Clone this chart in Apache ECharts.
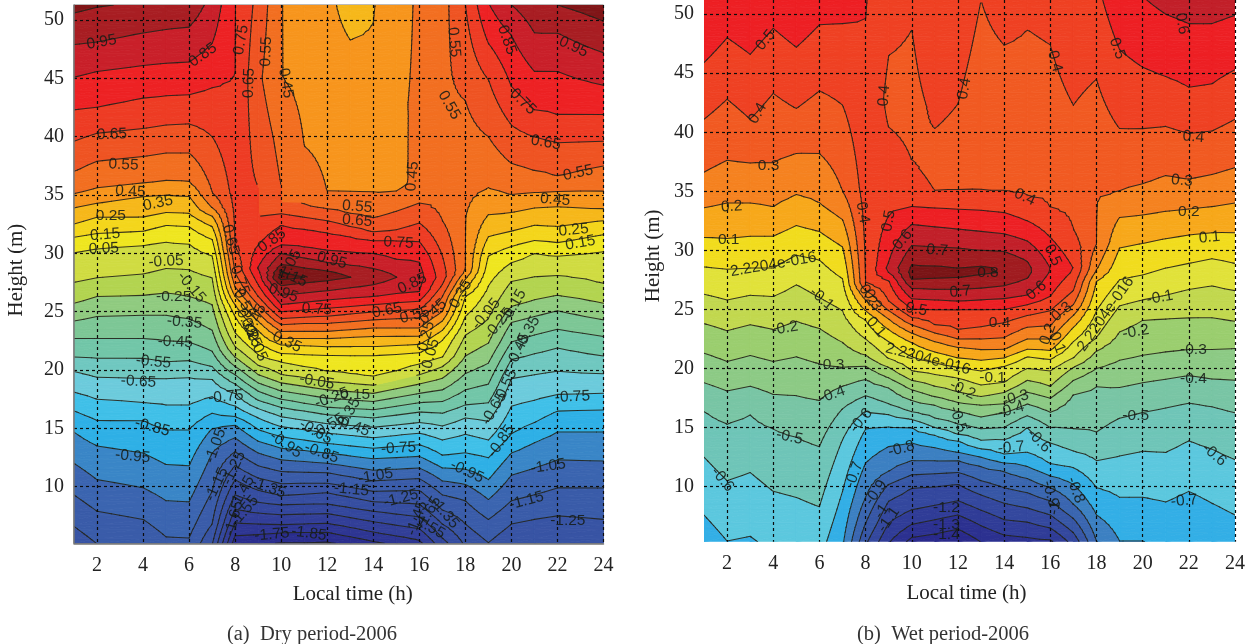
<!DOCTYPE html>
<html><head><meta charset="utf-8">
<style>html,body{margin:0;padding:0;background:#fff}#c{width:1255px;height:644px}</style>
<script src="https://cdn.jsdelivr.net/npm/echarts@6/dist/echarts.min.js"></script>
</head><body><div id="c"></div>
<script>
// Helpers: a column is a list of [height, contour level] knots.
const up = (from, ys) => ys.map((y, i) => [y, from + i]);
const down = (from, ys) => ys.map((y, i) => [y, from - i]);

const hourTicks = [2,4,6,8,10,12,14,16,18,20,22,24];
const heightTicks = [10,15,20,25,30,35,40,45,50];

/* ---------- Dry period: contour crossings per hour column ---------- */
const dryHours = [1,2,4,5,6,7,8,9,10,11,12,13,14,15,16,17,18,19,20,21,22,24];
const dryT01 = up(0,[6.6,9.3,12,14.7,16.5,18.1,19.9,21.1,22.7,24.2,25.7,27.5,30.1,31.4,32.5,33.9,35.1,37,39.6,42.3,45.1,47.9,50.6]);
const dryT02 = up(0,[5.1,7.9,10.6,13.5,15.7,17.5,19.4,21,22.7,24.6,26.3,27.9,30.4,31.7,33.1,34.3,35.6,37.9,40.3,42.5,45.6,48.1,51.1]);
const dryT04 = up(0,[4.4,7.2,9.9,12.9,15.7,17.2,19.3,21,22.7,24.7,26.4,28.2,30.7,31.9,33.1,34.9,36,38.3,40.7,43.3,46.1,48.9,51.6]);
const dryT05 = up(1,[5.7,8.8,11.9,14.9,17,19.3,20.7,22.5,24.7,26.6,28.7,31,32.4,33.5,35,36.2,38.6,41,43.5,46.3,49.2,52]);
const dryT06 = up(1,[5.6,8.7,11.8,14.9,17,19.4,20.8,22.4,24.4,26.3,28.6,30.8,32.3,33.4,34.9,36.1,38.6,41.1,43.6,46.4,49.4,52.2]);
const dryT07 = up(-1,[5,6.8,9.6,12.9,15,16.3,17.7,19.2,20.3,21.6,23.4,25.6,27.9,29.8,31.2,32.3,33.2,33.9,35.2,40,44.2,48,53]);
const dryT08 = [...up(-5,[5.8,6.9,8.1,9.3,10.6,11.8,13,14.2,15.3,16,16.9,18,18.8,19.6,20.3,21.1,22,23.2,24.6,25.6,26.3,27.1,28.3,30.5,45.4]),[51.5,19.02]];
const dryT09 = [...up(-5,[5.9,6.8,7.75,8.65,9.7,10.75,11.8,12.9,13.9,14.9,15.9,16.7,17.4,18.2,18.9,19.6,20.4,21.3,22.4,23.4,24.2,24.9,25.6,26.3,27.3,28.6]),[28.7,20.1],...down(20,[28.8,30.7,33.2]),[35.7,18],[40,17.65],[45,17.2],[51.3,17.7]];
const dryT10 = [...up(-6,[5.2,6.05,6.75,7.6,8.45,9.23,10.26,11.3,12.3,13.3,14.3,15.15,16,16.8,17.5,18.2,18.9,19.6,20.7,21.4,22.2,22.7,23.3,23.9,24.4,25,25.6,26.4,27.3,27.7]),[28,23.5],...down(23,[28.4,29,30,30.7,32.4,33.4,34.3]),[35.7,17],[40,16.65],[45,16.02],[51.3,16.02]];
const dryT11 = [...up(-6,[5.2,6.1,6.8,7.65,8.5,9.35,10.3,11.25,12.15,13.1,14,14.9,15.7,16.5,17.15,17.9,18.6,19.3,20.3,21.35,22.1,22.7,23.3,24,24.5,25.15,25.8,26.6,27.5,27.9]),[28,23.02],...down(23,[28.1,28.75,29.6,30.5,32.1,33.1,34.1]),[39.2,16],[45,15.75],[51.3,15.7]];
const dryT12 = [...up(-6,[5.25,6.1,6.85,7.7,8.5,9.5,10.3,11.2,12,12.9,13.7,14.6,15.4,16.2,16.8,17.6,18.3,19,19.9,21.3,22,22.7,23.3,24,24.6,25.3,26,26.8,27.7]),[28,22.6],...down(22,[28.5,29.2,30.25,31.8,32.8,33.8,35.2]),[40,15.6],[45,15.4],[51.3,15.2]];
const dryT13 = [...up(-6,[5,5.7,6.5,7.35,8.2,9.1,9.95,10.85,11.7,12.65,13.5,14.4,15.25,16.05,16.7,17.45,18.15,18.85,19.65,21.3,22,22.8,23.45,24.15,24.8,25.45,26.15,27.05,27.9]),[28,22.02],...down(22,[28.1,28.95,30.1,31.45,32.3,33.4,35.2]),[40,15.5],[45,15.3],[48.3,15],[51.3,14.7]];
const dryT14 = [...up(-5,[5.3,6.1,7,7.9,8.7,9.6,10.5,11.4,12.4,13.3,14.2,15.1,15.9,16.6,17.3,18,18.7,19.4,21.3,22,22.9,23.6,24.3,25,25.6,26.3,27.3]),[28,21.6],...down(21,[28.7,30,31.1,31.8,33,35.2]),[40,15.4],[45,15.3],[48.3,15.05],[51.3,14.95]];
const dryT15 = [...up(-5,[5,5.75,6.7,7.65,8.6,9.65,10.6,11.5,12.5,13.45,14.4,15.3,16.15,16.9,17.65,18.4,19.15,19.95,21.4,22.1,22.9,23.6,24.4,25.1,25.75,26.5,27.9]),[28,21.02],...down(21,[28.1,29.5,31.1,32,33.6,35.3]),[36,15.75],[42.6,15.85],[51.3,15.6]];
const dryT16 = [...up(-4,[5.4,6.4,7.4,8.5,9.7,10.7,11.6,12.6,13.6,14.6,15.5,16.4,17.2,18,18.8,19.6,20.5,21.5,22.2,22.9,23.6,24.5,25.2,25.9,26.7]),[28,20.4],...down(20,[29.3,31,32.6,34.3]),[36,16.25],[42,16.15],[51.3,16.15]];
const dryT17 = [...up(-2,[5.6,6.8,8,9.3,10.5,11.6,12.7,14,15.2,16.3,17.3,18.3,19.3,20.3,21.1,22.6,23.4,24.2,25,26.3,27.3]),[28,18.5],...down(18,[29.8,32.8]),[34,16.8],[45,16.8],[51.3,16.6]];
const dryT18 = [...up(0,[6.8,8.8,10.2,11.5,12.9,14.5,15.9,17,18.3,19.7,21.2,23,24.6,26.3,27,27.8,28.5]),[33.1,16.02],[43.1,17],[51.3,18]];
const dryT19 = up(0,[5.2,7.2,8.9,10.6,12.5,14,15.6,17.2,18.8,20.6,22.3,24.4,27.2,29.8,31.4,33.3,35.6,40,44.9,48,51.5]);
const dryT20 = up(0,[6.8,8.8,11,12.9,14.5,16.9,19.3,20.9,22.4,24.1,25.4,27.6,29.2,30.6,31.9,33.5,35,37.7,41,44.3,48.7,51.3]);
const dryT21 = up(0,[7.2,9.3,11.6,13.8,15.5,17.4,19.6,21.4,23,24.6,26,28,30,31.1,32.4,33.9,35.2,37.1,40,42.3,45.6,48.9,52.5]);
const dryT22 = up(0,[7.5,9.9,12.3,14.7,16.5,17.9,19.9,21.9,23.5,25.1,26.4,28.1,29.8,30.9,32.3,34,35.3,36.6,39.5,41.9,45.6,48.9,51.3]);
const dryT24 = up(0,[7.2,9.9,12.2,14.7,16.6,18,19.7,21.2,22.9,24.3,25.7,27.4,30.2,31.6,32.8,33.8,35.3,37.5,39.6,41.9,44.4,47.2,49.9]);
const dryColumns = [dryT01,dryT02,dryT04,dryT05,dryT06,dryT07,dryT08,dryT09,dryT10,dryT11,dryT12,dryT13,dryT14,dryT15,dryT16,dryT17,dryT18,dryT19,dryT20,dryT21,dryT22,dryT24];
const dryLevels = [-6,-5,-4,-3,-2,-1,0,1,2,3,4,5,6,7,8,9,10,11,12,13,14,15,16,17,18,19,20,21,22,23];
const dryBandColors = ['#292a8a','#2b2e8e','#2e3693','#323f98','#34479d','#364ea1','#3854a4','#3a5ca9','#3b65b0','#3a86c7','#2fb0e6','#40c0e8','#6ccbdc','#70c8c0','#72c6a8','#7dc796','#90cb80','#b3d450','#d0dc42','#efe620','#f4d61c','#f6b81b','#f7951d','#f26f21','#ef5423','#ee3c24','#ed2224','#c9202a','#a81e23','#801618','#6e1012'];
const dryLabels = [
 [2.2,48.1,'0.95',10],[6.6,47,'0.85',35],[8.26,48.3,'0.75',80],[8.6,44.6,'0.65',88],[9.35,47.3,'0.55',88],[10.2,44.6,'0.45',-80],
 [2.65,40.2,'0.65',2],[3.15,37.6,'0.55',-3],[3.45,35.3,'0.45',-3],[4.65,34.3,'0.35',12],[2.6,33.2,'0.25',0],[2.35,31.6,'0.15',5],[2.3,30.4,'0.05',3],[5,29.3,'-0.05',3],
 [17.5,48.1,'0.55',-85],[19.8,48.3,'0.85',-70],[22.7,47.7,'0.95',-25],[17.3,42.7,'0.55',-60],[20.5,43,'0.75',-45],[21.5,39.5,'0.65',-10],[22.9,36.9,'0.55',12],[21.9,34.6,'0.45',-5],[22.7,32,'0.25',5],[23,30.9,'0.15',10],
 [15.7,36.6,'0.45',85],[13.3,34,'0.55',-5],[13.3,32.8,'0.65',-5],[15.1,30.9,'0.75',-3],[12.2,29.4,'0.95',-15],
 [9.6,31.1,'0.85',35],[10.4,29.1,'1.05',60],[10.5,28,'1.15',-25],[15.7,27.4,'0.85',25],[10.1,26.6,'0.95',-20],[11.55,25.2,'0.75',-3],[14.6,25.1,'0.65',12],[15.8,24.7,'0.55',15],[16.6,25,'0.45',40],[10.25,22.4,'0.35',-25],
 [17.8,26.5,'0.35',60],[16.3,22.9,'0.25',75],[16.5,21.4,'0.05',75],[18.9,24.8,'-0.05',50],[20.1,25.5,'-0.15',60],[19.45,24,'-0.25',50],[20.7,23.2,'-0.35',60],[20.3,21.7,'-0.45',65],
 [5.33,26.3,'-0.25',0],[6.1,27.1,'-0.15',-50],[5.8,24.1,'-0.35',-5],[5.4,22.4,'-0.45',-3],[4.45,20.7,'-0.55',-5],[3.8,19,'-0.65',-3],[7.6,17.7,'-0.75',5],[4.4,15.1,'-0.85',-15],[3.55,12.6,'-0.95',-5],
 [7.15,13.5,'-1.05',70],[7.2,10.2,'-1.15',65],[7.95,11.6,'-1.25',65],[8.3,9.5,'-1.45',60],[9.45,9.9,'-1.35',-20],[8.4,7.9,'-1.55',50],[7.95,7.3,'-1.65',75],[9.6,5.9,'-1.75',5],[11.2,6,'-1.85',-8],
 [7.8,31.2,'0.65',-75],[8.2,27.7,'0.75',-70],[8.4,25.7,'0.55',-65],[8.9,24.4,'0.45',65],[8.5,24,'0.35',-65],[8.7,23.2,'0.25',-65],[8.95,22,'0.05',-65],
 [11.55,19,'-0.05',-10],[13.1,17.9,'-0.15',0],[12.2,17.6,'-0.25',20],[12.9,16.2,'-0.35',60],[13.1,15.2,'-0.45',-20],[12.05,15.2,'-0.55',30],[11.5,14.7,'-0.65',-30],[10.2,13.6,'-0.95',-35],[11.75,12.9,'-0.85',-20],[15.1,13.3,'-0.75',3],
 [14.1,10.9,'-1.05',10],[13.05,9.75,'-1.15',-5],[15.2,9,'-1.25',15],[15.9,7.3,'-1.45',70],[16.4,6.6,'-1.55',-30],[16.4,7.75,'-1.65',60],[17.1,7.75,'-1.35',-50],
 [18.07,11.3,'-0.95',-25],[19.55,13.9,'-0.85',55],[19.25,16.7,'-0.65',60],[19.75,18.6,'-0.55',65],[22.65,17.7,'-0.75',3],[21.6,11.75,'-1.05',8],[20.65,8.8,'-1.15',15],[22.45,7.1,'-1.25',0]
];

/* ---------- Wet period: contour crossings per hour column (level = value x 10) ---------- */
const wetHours = [1,2,3,4,5,6,7,8,9,10,11,12,13,14,15,16,17,18,19,20,21,22,23,24];
const wetT01 = up(-7,[7.6,12.5,16.4,18.8,21.3,23.8,26.3,28.6,31.1,33.6,36.6,41.1,45.9]);
const wetT02 = up(-7,[5.4,10.5,15.3,18.1,20.6,23.2,25.8,28.4,31,34,37.6,42.8,48]);
const wetT03 = up(-7,[5.8,11.2,16.1,18.5,21.1,23.7,26.2,28.5,31.2,34,37.4,41.1,46.6]);
const wetT04 = up(-7,[4.4,9.6,14.9,17.8,20.6,23.3,26.1,28.5,31.2,33.7,37.4,43.3,48.8]);
const wetT05 = up(-7,[3.5,9.1,14.2,17.7,21,24,27.1,29.6,32.1,34.7,38.2,42,47.2]);
const wetT06 = up(-7,[3.5,8.3,13.4,17.3,20.4,23.4,26,29.2,31.6,34,38.2,43.5,49.1]);
const wetT07 = up(-8,[4.6,9.6,14,16.6,18.5,20.1,22.2,24.9,27.6,30.3,32.6,35,42.3,49.2]);
const wetT08 = [...up(-11,[5,6.9,9.1,12,14.9,16.4,17.7,19.1,20.2,21.1,22.5,24.1,24.9,25.8,26.6,27.2,49.6]),[51.5,5.05]];
const wetT09 = [...up(-13,[5.2,6.9,8.8,10.2,11.3,13.4,15.1,16.1,17,18.4,19.2,20.1,20.8,22.3,23.3,24.2,24.9,25.7,27.5,28.1]),[28.5,6.25],...down(6,[29,32.9,40.4]),[43,3.8],[46.5,4],[51.5,4.4]];
const wetT10 = [...up(-14,[5.7,6.8,8,9.9,11,12.2,13.7,15,15.7,16.3,17.3,18.2,19,19.8,21,22.2,23,23.7,24.3,25,25.9,26.8,27.5]),[28,8.4],...down(8,[28.8,30.4,32.2,33.7,37.6]),[42,3.7],[48.7,4],[51.5,4.3]];
const wetT11 = [...up(-14,[6,7.2,8.4,10,11.1,12.2,13.3,14.4,15,15.8,16.9,17.6,18.5,19.5,20.5,21.4,22.3,23,23.7,25,25.8,26.7,27.6]),[28.3,8.5],...down(8,[28.6,30.3,32,33.6,35]),[37,3.6],[40.3,4],[45,4.4],[51.5,4.8]];
const wetT12 = [...up(-14,[6.4,7.6,8.8,10.2,11.2,12.2,12.9,13.9,14.4,15.3,16.4,17.1,18,19.2,20.1,20.9,21.8,22.5,23.3,25,25.7,26.7,27.7]),[28.3,8.4],...down(8,[28.5,30.2,31.8,33.5,35]),[38,3.7],[42.4,4],[51.5,4.6]];
const wetT13 = [...up(-14,[5.3,6.7,8,9.3,10.5,11.7,12.5,13.2,13.9,14.9,15.9,16.9,17.6,18.6,19.8,20.7,21.6,22.5,23.5,25,25.8,26.8,27.9]),[28.3,8.2],...down(8,[28.7,30,31.6,33.4,35]),[42,3.5],[51.2,4],[51.5,4.05]];
const wetT14 = [...up(-13,[5.9,7.2,8.6,9.9,11.3,12,12.7,14,15,16.3,17,18,18.8,20.2,20.9,21.6,22.6,23.9,25,25.9,27,28.2]),[28.3,8.03],...down(8,[28.4,29.9,31.4,33.2,35]),[38,3.5],[47.4,4],[51.5,4.4]];
const wetT15 = [...up(-13,[5.7,7,8.2,9.5,10.7,11.7,12.9,15,16,17,18,19,20,21,21.6,22.5,23.5,24.5,25.4,26.2,27.6]),[28.3,7.3],...down(7,[29.1,30.8,32.5,34.6]),[38,3.5],[48.7,4],[51.5,4.3]];
const wetT16 = [...up(-13,[5.5,6.5,7.6,8.8,9.9,10.9,11.9,13.7,15,16.3,17.5,18.5,19.8,20.8,21.5,22.5,23.6,24.9,26.1,28.3]),[28.4,6.03],...down(6,[28.5,31.1,33.6]),[38,3.5],[47.4,4],[51.5,4.2]];
const wetT17 = [...up(-11,[6.1,7.3,8.5,10.2,11.6,13,14.9,17.8,19,20.1,20.9,22.3,23.5,24.5,25.4,26.6]),[28.4,5.02],[31.8,4],[36,3.6],[42.3,4],[51.5,4.7]];
const wetT18 = [...up(-9,[5.4,7.6,9.9,12.2,14.6,18.5,20,21.5,22.6,24.9,27.4,28.3,30.5]),[34.3,3.02],[44.5,4],[51.5,4.8]];
const wetT19 = up(-8,[5.4,9.1,12.6,15.8,18.4,20.7,23.1,25.3,27.5,30.2,32.8,35,40.3,47]);
const wetT20 = up(-8,[5.4,9.1,13,16.3,18.8,21.1,24.1,25.8,27.9,30.6,33,35.6,40.3,45.5,51.5]);
const wetT21 = up(-8,[4.6,8.7,12.9,16.7,19.1,21.4,24.2,26.2,28.5,31,33.3,36.3,40.5,44.7,50]);
const wetT22 = up(-7,[9.6,13.9,17.1,19.4,21.6,24.3,26.7,28.9,31.3,33.5,36,39.9,43.8,49.2]);
const wetT23 = up(-7,[8.6,13.2,16.8,19.1,21.6,24.3,27,29.3,31.5,33.7,36.4,40.1,44.1,49.2]);
const wetT24 = up(-7,[7.6,12.3,16.3,19,21.7,24,26.6,28.9,31.5,34,37,41.1,45.3,49.9]);
const wetColumns = [wetT01,wetT02,wetT03,wetT04,wetT05,wetT06,wetT07,wetT08,wetT09,wetT10,wetT11,wetT12,wetT13,wetT14,wetT15,wetT16,wetT17,wetT18,wetT19,wetT20,wetT21,wetT22,wetT23,wetT24];
const wetLevels = [-14,-13,-12,-11,-10,-9,-8,-7,-6,-5,-4,-3,-2,-1,0,1,2,3,4,5,6,7,8];
const wetBandColors = ['#2a2a8c','#2c3190','#303c97','#34489e','#3757a6','#3a66b0','#3c80c2','#33afe6','#5cc8de','#6fc5b8','#79c5a5','#8dca85','#9bce6f','#c2d84f','#e1e23a','#f1dc1e','#f7a81b','#f58220','#f15a22','#ef4123','#ed2024','#c2202a','#a01c20','#7a1416'];
const wetLabels = [
 [3.67,47.8,'0.5',50],[3.33,41.6,'0.4',60],[3.8,37.2,'0.3',0],[2.2,33.7,'0.2',3],[2.07,30.9,'0.1',0],[4,28.8,'2.2204e-016',10],
 [8.8,43.1,'0.4',85],[7.87,33.2,'0.4',-80],[9,32.5,'0.5',80],[9.6,30.9,'0.6',50],[11.1,30,'0.7',-5],
 [12.28,43.7,'0.4',80],[16.2,46,'0.4',-75],[18.9,47.1,'0.5',-70],[21.7,49.2,'0.6',-80],[22.2,39.6,'0.4',-5],[21.7,35.9,'0.3',-5],[22,33.3,'0.2',0],[22.9,31.1,'0.1',5],[14.9,34.5,'0.4',-25],[16.1,29.6,'0.5',-65],[13.3,28.1,'0.8',0],
 [6.1,25.9,'-0.1',-40],[4.5,23.4,'-0.2',10],[6.5,20.3,'-0.3',0],[6.55,17.8,'-0.4',20],[4.7,14.2,'-0.5',-12],[1.8,10.6,'-0.6',-50],[7.8,15.6,'-0.6',50],[7.5,11,'-0.7',70],[9.55,13.2,'-0.8',15],[8.45,9.5,'-0.9',55],[9,7.2,'-1.1',55],[8.7,7.9,'-1',55],
 [11.5,8.2,'-1.2',0],[11.5,6.8,'-1.3',0],[11.5,5.9,'-1.4',0],[8.3,25.8,'0.3',-60],[8.1,26.2,'0.2',-60],[8.45,23.5,'0.1',-50],[10.2,25,'0.5',-10],[10.7,20.8,'2.2204e-016',-15],
 [12.1,26.5,'0.7',5],[15.4,26.6,'0.6',40],[13.8,23.9,'0.4',0],[16.5,24.8,'0.3',40],[15.9,22.9,'0.2',70],[16.3,22.2,'0.1',-70],[18.4,24.6,'2.2204e-016',55],
 [13.5,19.2,'-0.1',0],[20.75,26,'-0.1',10],[12.2,18.2,'-0.2',-25],[19.7,23.1,'-0.2',10],[14.5,17.5,'-0.3',15],[22.2,21.6,'-0.3',0],[14.3,16.5,'-0.4',15],[22.2,19.1,'-0.4',0],[12,15.7,'-0.5',-70],[19.7,16,'-0.5',0],
 [15.5,13.9,'-0.6',-45],[23.1,12.7,'-0.6',-40],[14.3,13.3,'-0.7',5],[21.8,8.8,'-0.7',5],[17.1,9.7,'-0.8',-70],[16,9.4,'-0.9',-75],[16.2,8.2,'-1',80]
];

/* ---------- Contouring over the value field ---------- */
function valueAt(col, y) {
  const n = col.length;
  if (y <= col[0][0]) {
    const s = (col[1][1]-col[0][1])/(col[1][0]-col[0][0]);
    return col[0][1] - Math.min(.9, Math.abs(s*(col[0][0]-y))) * Math.sign(s||1);
  }
  if (y >= col[n-1][0]) {
    const s = (col[n-1][1]-col[n-2][1])/(col[n-1][0]-col[n-2][0]);
    return col[n-1][1] + Math.max(-.9, Math.min(.9, s*(y-col[n-1][0])));
  }
  for (let i=1;i<n;i++) if (y<=col[i][0]) {
    const t=(y-col[i-1][0])/(col[i][0]-col[i-1][0]);
    return col[i-1][1]+t*(col[i][1]-col[i-1][1]);
  }
}
function clipAbove(poly, L, keepAbove) {
  const out=[];
  for (let i=0;i<poly.length;i++){
    const a=poly[i], b=poly[(i+1)%poly.length];
    const ai=keepAbove? a[2]>=L : a[2]<=L, bi=keepAbove? b[2]>=L : b[2]<=L;
    if (ai) out.push(a);
    if (ai!==bi){ const t=(L-a[2])/(b[2]-a[2]); out.push([a[0]+t*(b[0]-a[0]),a[1]+t*(b[1]-a[1]),L]); }
  }
  return out;
}
function buildField(hours, columns, levels, yMin, yMax) {
  const rows=[]; for (let y=yMin;y<yMax;y+=0.4) rows.push(y); rows.push(yMax);
  const grid=columns.map(c=>rows.map(y=>valueAt(c,y)));
  const tris=[];
  for (let i=0;i<hours.length-1;i++) for (let j=0;j<rows.length-1;j++){
    const p=(a,b)=>[hours[a],rows[b],grid[a][b]];
    tris.push([p(i,j),p(i+1,j),p(i+1,j+1)]);
    tris.push([p(i,j),p(i+1,j+1),p(i,j+1)]);
  }
  const bands=levels.map(()=>[]); bands.push([]);
  const segs=[];
  tris.forEach(t=>{
    const vs=t.map(p=>p[2]), lo=Math.min(...vs), hi=Math.max(...vs);
    for (let k=0;k<=levels.length;k++){
      const a=k===0?-Infinity:levels[k-1], b=k===levels.length?Infinity:levels[k];
      if (hi<a||lo>b) continue;
      let poly=t;
      if (a>-Infinity&&lo<a) poly=clipAbove(poly,a,true);
      if (poly.length&&b<Infinity&&hi>b) poly=clipAbove(poly,b,false);
      if (poly.length>2) bands[k].push(poly);
    }
    levels.forEach(L=>{
      if (lo>=L||hi<=L) return;
      const pts=[];
      for (let e=0;e<3;e++){
        const u=t[e], w=t[(e+1)%3];
        if ((u[2]-L)*(w[2]-L)<0){ const r=(L-u[2])/(w[2]-u[2]); pts.push([u[0]+r*(w[0]-u[0]),u[1]+r*(w[1]-u[1])]); }
      }
      if (pts.length===2) segs.push(pts);
    });
  });
  return {bands,segs};
}
function fillSeries(field, colors, idx){
  return {type:'custom',xAxisIndex:idx,yAxisIndex:idx,silent:true,z:2,data:[[1,10]],clip:true,animation:false,
    renderItem:(p,api)=>{
      const children=[];
      field.bands.forEach((polys,k)=>polys.forEach(poly=>children.push({
        type:'polygon',shape:{points:poly.map(q=>api.coord([q[0],q[1]]))},
        style:{fill:colors[k],stroke:colors[k],lineWidth:.8}})));
      return {type:'group',children};
    }};
}
function lineSeries(field, idx){
  return {type:'custom',xAxisIndex:idx,yAxisIndex:idx,silent:true,z:3,data:[[1,10]],clip:true,animation:false,
    renderItem:(p,api)=>{
      const children=field.segs.map(s=>({type:'polyline',shape:{points:s.map(q=>api.coord(q))},
        style:{fill:null,stroke:'#23231c',lineWidth:1.05,lineCap:'round',opacity:.9}}));
      return {type:'group',children};
    }};
}
function labelSeries(list, idx){
  return {type:'scatter',xAxisIndex:idx,yAxisIndex:idx,symbolSize:0,silent:true,z:20,clip:false,animation:false,
    data:list.map(l=>({name:l[2],value:[l[0],l[1]],label:{rotate:l[3]}})),
    label:{show:true,position:'inside',formatter:'{b}',fontFamily:'"Liberation Sans"',fontSize:15.5,color:'#161c18',opacity:.88}};
}
const serif='"Liberation Serif"';
function axisX(gridIndex,namePad){
  return {type:'value',gridIndex,min:1,max:24,z:10,name:'Local time (h)',nameLocation:'middle',nameGap:41,
    nameTextStyle:{fontFamily:serif,fontSize:21,color:'#222',padding:namePad},
    axisLine:{show:true,lineStyle:{color:gridIndex?'#fff':'#777',width:gridIndex?0:1.5}},
    axisTick:{show:false,customValues:hourTicks},
    axisLabel:{customValues:hourTicks,margin:12,fontFamily:serif,fontSize:20,color:'#222'},
    splitLine:{show:true,lineStyle:{color:'#0c0c0c',type:[3,3],width:1.2}}};
}
function axisY(gridIndex,yMin,yMax,gap,namePad){
  return {type:'value',gridIndex,min:yMin,max:yMax,z:10,name:'Height (m)',nameLocation:'middle',nameGap:gap,
    nameTextStyle:{fontFamily:serif,fontSize:21,color:'#222',padding:namePad},
    axisLine:{show:!gridIndex,lineStyle:{color:'#777',width:1.5}},
    axisTick:{show:false,customValues:heightTicks},
    axisLabel:{customValues:heightTicks,margin:10,fontFamily:serif,fontSize:20,color:'#222'},
    splitLine:{show:true,lineStyle:{color:'#0c0c0c',type:[3,3],width:1.2}}};
}
const dryYMin=5.15, dryYMax=51.29, wetYMin=5.34, wetYMax=51.2;
const dryField=buildField(dryHours,dryColumns,dryLevels,dryYMin,dryYMax);
const wetField=buildField(wetHours,wetColumns,wetLevels,wetYMin,wetYMax);
const chart=echarts.init(document.getElementById('c'),null,{renderer:'canvas'});
chart.setOption({
  animation:false,backgroundColor:'#fff',
  title:[
    {text:'(a)  Dry period-2006',left:307,top:619,textAlign:'center',textStyle:{fontFamily:serif,fontWeight:'normal',fontSize:20.5,color:'#333'}},
    {text:'(b)  Wet period-2006',left:938,top:619,textAlign:'center',textStyle:{fontFamily:serif,fontWeight:'normal',fontSize:20.5,color:'#333'}}
  ],
  grid:[
    {left:74,top:5,width:529.5,height:538.3,show:true,borderColor:'#777',borderWidth:1,containLabel:false},
    {left:704,top:0,width:531,height:541.7}
  ],
  xAxis:[axisX(0,[0,0,0,28]),axisX(1,[0,6,0,0])],
  yAxis:[axisY(0,dryYMin,dryYMax,47,[0,0,0,8]),axisY(1,wetYMin,wetYMax,40,[0,0,0,30])],
  series:[
    fillSeries(dryField,dryBandColors,0),lineSeries(dryField,0),labelSeries(dryLabels,0),
    fillSeries(wetField,wetBandColors,1),lineSeries(wetField,1),labelSeries(wetLabels,1)
  ]
});
</script></body></html>
